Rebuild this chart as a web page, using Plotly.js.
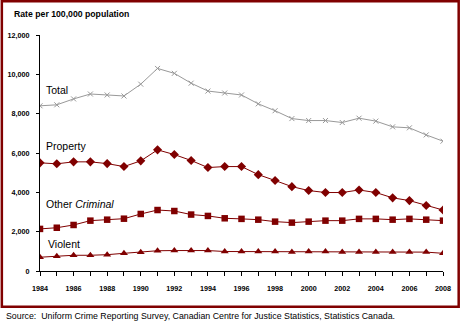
<!DOCTYPE html>
<html><head><meta charset="utf-8">
<script src="https://cdn.plot.ly/plotly-3.0.1.min.js"></script>
<style>html,body{margin:0;padding:0;background:#fff;}#chart{width:460px;height:323px;}</style>
</head><body><div id="chart"></div>
<script>
var years = [1984,1985,1986,1987,1988,1989,1990,1991,1992,1993,1994,1995,1996,1997,1998,1999,2000,2001,2002,2003,2004,2005,2006,2007,2008];
var total = [8400,8450,8750,9000,8950,8900,9500,10300,10050,9550,9150,9050,8950,8500,8150,7750,7650,7650,7550,7770,7620,7330,7280,6920,6600];
var property = [5500,5450,5550,5550,5460,5310,5600,6160,5920,5620,5260,5310,5310,4900,4600,4290,4090,3990,3990,4120,3990,3720,3580,3330,3100];
var otherCriminal = [2140,2200,2340,2560,2610,2660,2900,3100,3050,2870,2800,2680,2650,2610,2510,2460,2510,2560,2560,2650,2650,2610,2650,2610,2560];
var violent = [700,750,800,800,830,900,950,1030,1040,1040,1040,990,990,990,990,960,990,990,960,960,960,960,960,960,900];
var seriesLabels = ['Total','Property','Other <i>Criminal</i>','Violent'];
var yTickVals = [0,2000,4000,6000,8000,10000,12000];
var yTickText = ['0','2,000','4,000','6,000','8,000','10,000','12,000'];
var titleText = 'Rate per 100,000 population';
var sourceText = 'Source:  Uniform Crime Reporting Survey, Canadian Centre for Justice Statistics, Statistics Canada.';

var RED = '#800000';
var NARROW = '"Liberation Sans Narrow", "Arial Narrow", Arial, sans-serif';

var L = 39.5, R = 443, T = 35, B = 271;
var W = R - L, H = B - T;
function px(x){ return (x - L) / W; }
function py(y){ return (B - y) / H; }

var traces = [
  {x: years, y: total, mode:'lines+markers', line:{color:'#999999', width:1}, marker:{symbol:'x-thin', size:5, line:{color:'#999999', width:1}}},
  {x: years, y: property, mode:'lines+markers', line:{color:RED, width:1}, marker:{symbol:'diamond', size:7, color:RED}},
  {x: years, y: otherCriminal, mode:'lines+markers', line:{color:RED, width:1}, marker:{symbol:'square', size:6.5, color:RED}},
  {x: years, y: violent, mode:'lines+markers', line:{color:RED, width:1}, marker:{symbol:'triangle-up', size:7, color:RED}}
];

var labelPos = [[44,90],[44,146],[44,204],[46,243.5]];
var annotations = seriesLabels.map(function(t,i){
  return {text:t, xref:'paper', yref:'paper', x:px(labelPos[i][0]), y:py(labelPos[i][1]), xanchor:'left', yanchor:'middle', showarrow:false, font:{family:NARROW, size:10.5, color:'#000'}};
});
annotations.push({text:'<b>'+titleText+'</b>', xref:'paper', yref:'paper', x:px(11), y:py(14), xanchor:'left', yanchor:'middle', showarrow:false, font:{family:NARROW, size:8.7, color:'#000'}});
annotations.push({text:sourceText, xref:'paper', yref:'paper', x:px(3), y:py(316), xanchor:'left', yanchor:'middle', showarrow:false, font:{family:NARROW, size:8.8, color:'#000'}});

var layout = {
  width:460, height:323,
  margin:{l:L, r:460-R, t:T, b:323-B, pad:0},
  paper_bgcolor:'#fff', plot_bgcolor:'#fff',
  showlegend:false,
  xaxis:{range:[1984,2008], tickvals:[1984,1986,1988,1990,1992,1994,1996,1998,2000,2002,2004,2006,2008],
    ticks:'outside', ticklen:4, tickcolor:'#000', tickwidth:1, showgrid:false, zeroline:false,
    showline:true, linecolor:'#000', linewidth:1,
    minor:{dtick:1, tick0:1984, ticks:'outside', ticklen:4, tickcolor:'#000', showgrid:false},
    tickfont:{family:NARROW, size:7.2, color:'#000', weight:'bold'}, fixedrange:true, ticklabelstandoff:6},
  yaxis:{range:[0,12000], tickvals:yTickVals, ticktext:yTickText,
    ticks:'outside', ticklen:3, tickcolor:'#000', tickwidth:1, showgrid:false, zeroline:false,
    showline:true, linecolor:'#000', linewidth:1,
    tickfont:{family:NARROW, size:7.2, color:'#000', weight:'bold'}, fixedrange:true, ticklabelstandoff:5},
  annotations: annotations,
  shapes:[{type:'rect', xref:'paper', yref:'paper', x0:px(1.3), x1:px(458.7), y0:py(306.7), y1:py(1.2), line:{color:RED, width:2.5}, fillcolor:'rgba(0,0,0,0)', layer:'above'}]
};
Plotly.newPlot('chart', traces, layout, {displayModeBar:false, staticPlot:true});
</script></body></html>
